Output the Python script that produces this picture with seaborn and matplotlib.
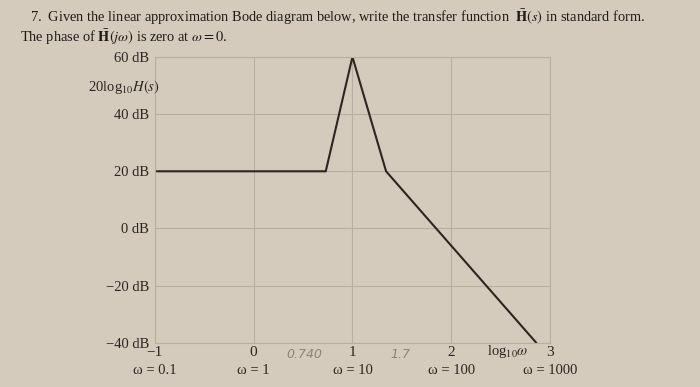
import matplotlib
matplotlib.use("Agg")
import matplotlib.pyplot as plt
import matplotlib.transforms as mtransforms
import seaborn as sns
import pandas as pd

# ---- data ----
log_w = [-1.0, 0.73, 1.0, 1.34, 2.86]
mag_db = [20, 20, 60, 20, -40]

x_ticks = [-1, 0, 1, 2, 3]
x_tick_labels = ["\u22121", "0", "1", "2", "3"]
omega_labels = ["\u03c9 = 0.1", "\u03c9 = 1", "\u03c9 = 10", "\u03c9 = 100", "\u03c9 = 1000"]
y_ticks = [-40, -20, 0, 20, 40, 60]
y_tick_labels = ["\u221240 dB", "\u221220 dB", "0 dB", "20 dB", "40 dB", "60 dB"]

notes = ["0.740", "1.7"]
note_pos = [0.51, 1.48]

sns.set_theme(style="white")
plt.rcParams["font.family"] = ["Liberation Serif", "DejaVu Serif"]
plt.rcParams["mathtext.fontset"] = "stix"

bg = "#d4cbbd"
grid_c = "#b9af9f"
ink = "#2b2622"

fig = plt.figure(figsize=(7.0, 3.87), dpi=100)
fig.patch.set_facecolor(bg)
ax = fig.add_axes([0.221, 0.114, 0.565, 0.739])
ax.set_facecolor(bg)

df = pd.DataFrame({"logw": log_w, "db": mag_db})
sns.lineplot(data=df, x="logw", y="db", ax=ax, color=ink, linewidth=1.5,
             sort=False, estimator=None)

ax.set_xlim(-1, 3)
ax.set_ylim(-40, 60)
ax.set_xticks(x_ticks)
ax.set_xticklabels(x_tick_labels, fontsize=11, color=ink)
ax.set_yticks(y_ticks)
ax.set_yticklabels(y_tick_labels, fontsize=10.5, color=ink)
ax.tick_params(axis="both", length=0)
ax.tick_params(axis="x", pad=2)
ax.tick_params(axis="y", pad=4)
ax.grid(True, color=grid_c, linewidth=0.8)
for s in ax.spines.values():
    s.set_color(grid_c)
    s.set_linewidth(0.8)
ax.set_xlabel("")
ax.set_ylabel("")

trans = mtransforms.blended_transform_factory(ax.transData, fig.transFigure)
for xv, lab in zip(x_ticks, omega_labels):
    ax.text(xv, 1 - 370 / 387, lab, transform=trans, ha="center", va="center",
            fontsize=10.5, color=ink)

fig.text(0.229, 1 - 87 / 387, r"20log$_{10}$$H(s)$", ha="right", va="center",
         fontsize=10.5, color=ink)
fig.text(508 / 700, 1 - 352 / 387, r"log$_{10}$$\omega$", ha="center", va="center",
         fontsize=10.5, color=ink)

for t, p in zip(notes, note_pos):
    ax.text(p, 1 - 355 / 387, t, transform=trans, ha="center", va="center",
            fontsize=9, color="#8d8478", family="DejaVu Sans", style="italic")

fig.text(30 / 700, 1 - 17 / 387,
         r"7.  Given the linear approximation Bode diagram below, write the transfer function  $\bar{\mathbf{H}}(s)$ in standard form.",
         ha="left", va="center", fontsize=10.4, color="#1e1b18")
fig.text(20 / 700, 1 - 37 / 387,
         r"The phase of $\bar{\mathbf{H}}(j\omega)$ is zero at $\omega = 0$.",
         ha="left", va="center", fontsize=10.4, color="#1e1b18")

fig.savefig("out.png", dpi=100, facecolor=bg)
